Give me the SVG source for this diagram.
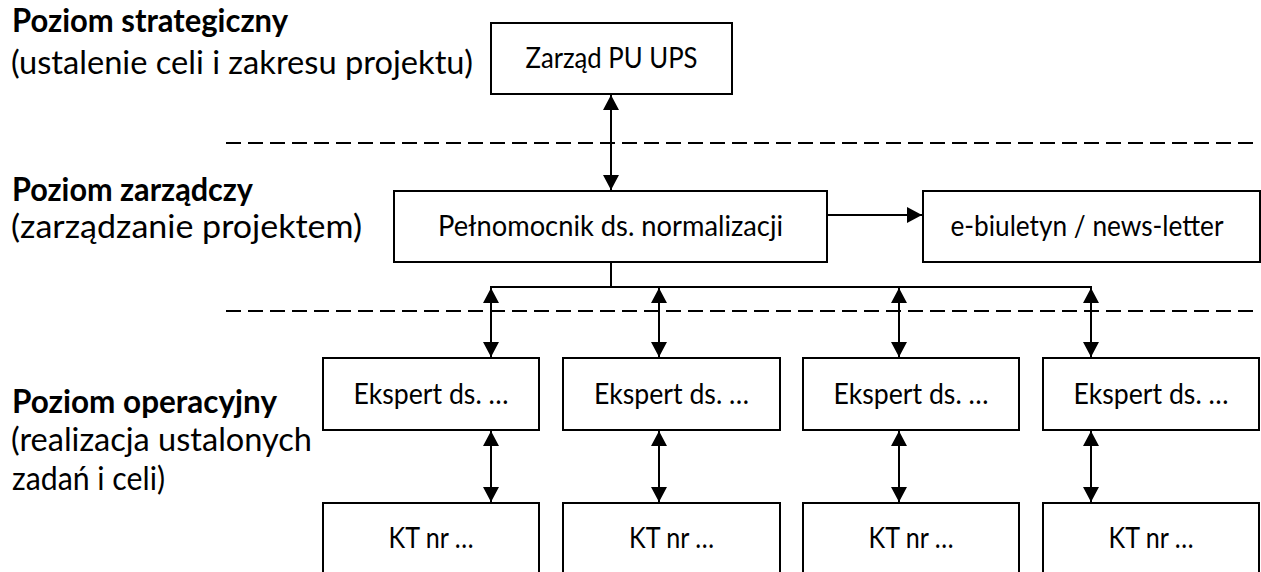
<svg xmlns="http://www.w3.org/2000/svg" width="1261" height="572" viewBox="0 0 1261 572">
<style>
  .box { fill: #fff; stroke: #000; stroke-width: 2; }
  .bt { font-family: Lato, "Liberation Sans", sans-serif; font-size: 28px; fill: #000; text-anchor: middle; }
  .lb { font-family: Lato, "Liberation Sans", sans-serif; font-size: 32px; fill: #000; }
  .lbb { font-weight: bold; }
  .ln { fill: none; stroke: #000; stroke-width: 2; }
  .dash { fill: none; stroke: #000; stroke-width: 2; stroke-dasharray: 15 7; }
  .arr { marker-start: url(#ah); marker-end: url(#ah); }
  .arr1 { marker-end: url(#ah); }
</style>
<defs>
  <marker id="ah" markerUnits="userSpaceOnUse" markerWidth="15" markerHeight="16" viewBox="0 0 15 16" refX="15" refY="8" orient="auto-start-reverse">
    <path d="M0,0 L15,8 L0,16 Z" fill="#000"/>
  </marker>
</defs>
<rect width="1261" height="572" fill="#fff"/>

<g id="labels">
  <text class="lb lbb" x="12" y="32" textLength="276" lengthAdjust="spacingAndGlyphs">Poziom strategiczny</text>
  <text class="lb" x="11" y="74" textLength="462" lengthAdjust="spacingAndGlyphs">(ustalenie celi i zakresu projektu)</text>
  <text class="lb lbb" x="12" y="201" textLength="241" lengthAdjust="spacingAndGlyphs">Poziom zarządczy</text>
  <text class="lb" x="11" y="238" textLength="351" lengthAdjust="spacingAndGlyphs">(zarządzanie projektem)</text>
  <text class="lb lbb" x="12" y="413" textLength="265" lengthAdjust="spacingAndGlyphs">Poziom operacyjny</text>
  <text class="lb" x="11" y="451" textLength="301" lengthAdjust="spacingAndGlyphs">(realizacja ustalonych</text>
  <text class="lb" x="12" y="490" textLength="153" lengthAdjust="spacingAndGlyphs">zadań i celi)</text>
</g>

<g id="separators">
  <line class="dash" x1="226" y1="143" x2="1256" y2="143"/>
  <line class="dash" x1="226" y1="311" x2="1256" y2="311"/>
</g>

<g id="connectors">
  <line class="ln arr" x1="611" y1="95" x2="611" y2="190"/>
  <line class="ln arr1" x1="827" y1="215" x2="922" y2="215"/>
  <polyline class="ln" points="611,262 611,287"/>
  <line class="ln" x1="490" y1="287" x2="1092" y2="287"/>
  <line class="ln arr" x1="491" y1="288" x2="491" y2="357"/>
  <line class="ln arr" x1="659" y1="288" x2="659" y2="357"/>
  <line class="ln arr" x1="899" y1="288" x2="899" y2="357"/>
  <line class="ln arr" x1="1091" y1="288" x2="1091" y2="357"/>
  <line class="ln arr" x1="491" y1="431" x2="491" y2="502"/>
  <line class="ln arr" x1="659" y1="431" x2="659" y2="502"/>
  <line class="ln arr" x1="899" y1="431" x2="899" y2="502"/>
  <line class="ln arr" x1="1091" y1="431" x2="1091" y2="502"/>
</g>

<g id="zarzad">
  <rect class="box" x="491" y="23" width="241" height="71"/>
  <text class="bt" x="611.5" y="68" textLength="172" lengthAdjust="spacingAndGlyphs">Zarząd PU UPS</text>
</g>
<g id="pelnomocnik">
  <rect class="box" x="394" y="191" width="433" height="71"/>
  <text class="bt" x="610.5" y="236" textLength="345" lengthAdjust="spacingAndGlyphs">Pełnomocnik ds. normalizacji</text>
</g>
<g id="ebiuletyn">
  <rect class="box" x="923" y="191" width="337" height="71"/>
  <text class="bt" x="1087" y="236" textLength="273" lengthAdjust="spacingAndGlyphs">e-biuletyn / news-letter</text>
</g>

<g id="ekspert1">
  <rect class="box" x="323" y="358" width="216" height="72"/>
  <text class="bt" x="431" y="404" textLength="155" lengthAdjust="spacingAndGlyphs">Ekspert ds. …</text>
</g>
<g id="ekspert2">
  <rect class="box" x="563" y="358" width="217" height="72"/>
  <text class="bt" x="671.5" y="404" textLength="155" lengthAdjust="spacingAndGlyphs">Ekspert ds. …</text>
</g>
<g id="ekspert3">
  <rect class="box" x="803" y="358" width="216" height="72"/>
  <text class="bt" x="911" y="404" textLength="155" lengthAdjust="spacingAndGlyphs">Ekspert ds. …</text>
</g>
<g id="ekspert4">
  <rect class="box" x="1043" y="358" width="216" height="72"/>
  <text class="bt" x="1151" y="404" textLength="155" lengthAdjust="spacingAndGlyphs">Ekspert ds. …</text>
</g>

<g id="kt1">
  <rect class="box" x="323" y="503" width="216" height="90"/>
  <text class="bt" x="431" y="548" textLength="85" lengthAdjust="spacingAndGlyphs">KT nr …</text>
</g>
<g id="kt2">
  <rect class="box" x="563" y="503" width="217" height="90"/>
  <text class="bt" x="671.5" y="548" textLength="85" lengthAdjust="spacingAndGlyphs">KT nr …</text>
</g>
<g id="kt3">
  <rect class="box" x="803" y="503" width="216" height="90"/>
  <text class="bt" x="911" y="548" textLength="85" lengthAdjust="spacingAndGlyphs">KT nr …</text>
</g>
<g id="kt4">
  <rect class="box" x="1043" y="503" width="216" height="90"/>
  <text class="bt" x="1151" y="548" textLength="85" lengthAdjust="spacingAndGlyphs">KT nr …</text>
</g>
</svg>
